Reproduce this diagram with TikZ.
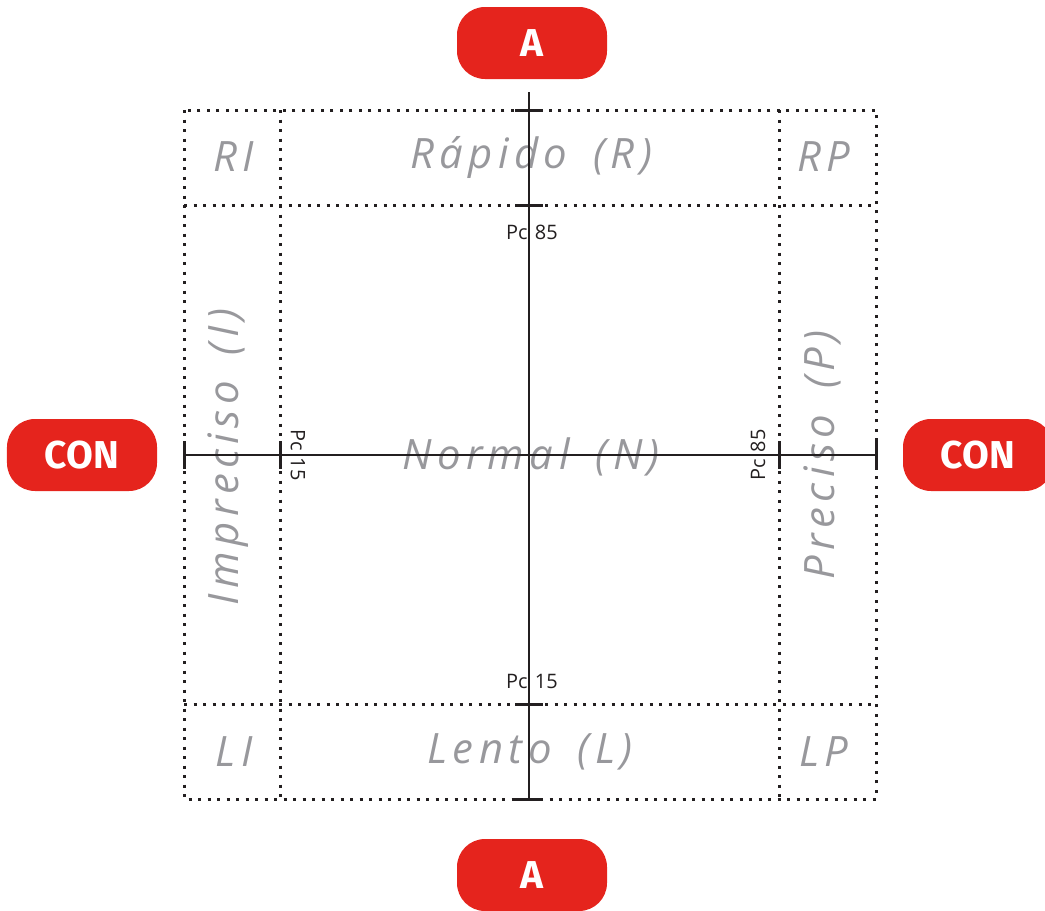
\documentclass[tikz,border=0pt]{standalone}
\usepackage{fontspec}
\setmainfont{Open Sans}
\newfontfamily\lblfont[LetterSpace=13,WordSpace=1.6]{Open Sans}
\newfontfamily\pcfont[WordSpace=1.4]{Open Sans}
\newfontfamily\btnfont{Fira Sans}
\definecolor{redc}{RGB}{229,36,29}
\definecolor{grayc}{RGB}{152,152,156}
\definecolor{darkc}{RGB}{35,31,32}
\begin{document}
\begin{tikzpicture}[x=1bp,y=-1bp,
  btn/.style={fill=redc, rounded corners=28bp, minimum width=150bp, minimum height=72bp, text=white, inner sep=0pt, font=\btnfont\bfseries\fontsize{39}{39}\selectfont},
  lbl/.style={text=grayc, inner sep=0pt, font=\lblfont\itshape\fontsize{42}{42}\selectfont},
  pc/.style={text=darkc, inner sep=0pt, font=\pcfont\fontsize{20}{20}\selectfont},
  dotline/.style={draw=darkc, line width=3bp, dash pattern=on 3bp off 6.5bp},
  axisline/.style={draw=darkc, line width=2.8bp},
  axtick/.style={draw=darkc, line width=3bp}]
\useasboundingbox (0,0) rectangle (1045,911);
% dotted grid
\draw[dotline] (184,110) rectangle (876,799);
\draw[dotline] (280,110) -- (280,799);
\draw[dotline] (779,110) -- (779,799);
\draw[dotline] (184,205) -- (876,205);
\draw[dotline] (184,704) -- (876,704);
% labels
\node[lbl] (ri) at (234,157) {RI};
\node[lbl] (r) at (531,157) {Rápido (R)};
\node[lbl] (rp) at (824,157) {RP};
\node[lbl] (n) at (531,457) {Normal (N)};
\node[lbl] (li) at (234,752) {LI};
\node[lbl] (l) at (530,752) {Lento (L)};
\node[lbl] (lp) at (824,752) {LP};
\node[lbl, rotate=90] (i) at (228,457) {Impreciso (I)};
\node[lbl, rotate=90] (p) at (822,455) {Preciso (P)};
% axes
\coordinate (vt) at (529,92);
\coordinate (vb) at (529,800);
\coordinate (hl) at (184,455);
\coordinate (hr) at (876,455);
\draw[axisline] (vt) -- (vb);
\draw[axisline] (hl) -- (hr);
% ticks
\foreach \yy in {110,205,704,799} \draw[axtick] (515,\yy) -- (543,\yy);
\foreach \xx in {184,280,779,876} \draw[axtick] (\xx,441) -- (\xx,469);
% Pc labels
\node[pc] (pc85t) at (532,232) {Pc 85};
\node[pc] (pc15b) at (532,681) {Pc 15};
\node[pc, rotate=-90] (pc15l) at (298,455) {Pc 15};
\node[pc, rotate=90] (pc85r) at (758,455) {Pc 85};
% buttons
\node[btn] (atop) at (532,43) {A};
\node[btn] (abot) at (532,875) {A};
\node[btn] (conl) at (82,455) {CON};
\node[btn] (conr) at (978,455) {CON};
\end{tikzpicture}
\end{document}
